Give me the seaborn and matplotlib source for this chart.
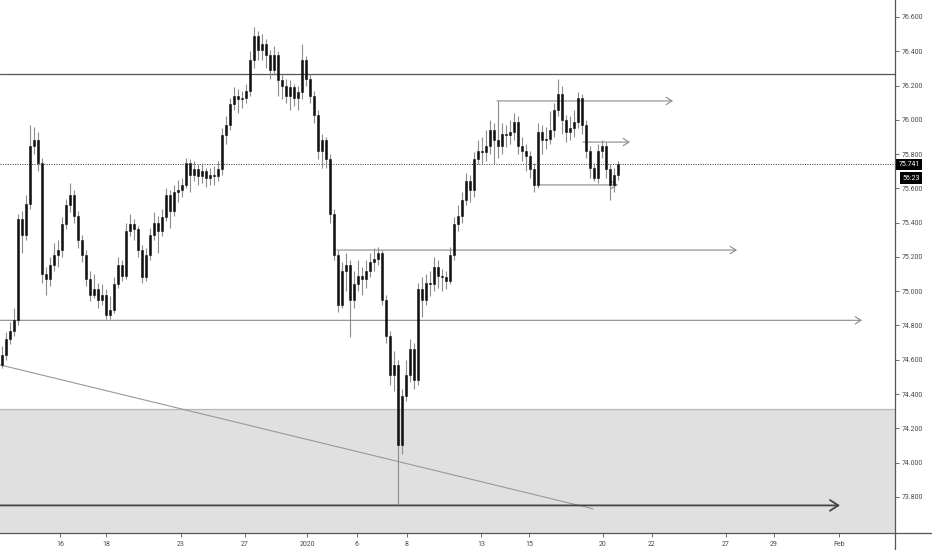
import numpy as np
import pandas as pd
import matplotlib
matplotlib.use("Agg")
import matplotlib.pyplot as plt
import seaborn as sns
from matplotlib.lines import Line2D

# 4h candles (open = previous close)
first_open = 74.57
closes = [74.63, 74.72, 74.77, 74.83, 75.42, 75.33, 75.51, 75.85, 75.88, 75.75,
          75.10, 75.07, 75.15, 75.21, 75.24, 75.39, 75.50, 75.56, 75.44, 75.30,
          75.21, 75.07, 74.98, 75.01, 74.95, 74.98, 74.86, 74.89, 75.04, 75.15,
          75.09, 75.35, 75.39, 75.36, 75.24, 75.08, 75.21, 75.33, 75.40, 75.35,
          75.43, 75.56, 75.47, 75.58, 75.59, 75.62, 75.75, 75.68, 75.71, 75.67,
          75.70, 75.66, 75.68, 75.67, 75.71, 75.91, 75.97, 76.09, 76.14, 76.12,
          76.13, 76.17, 76.35, 76.49, 76.41, 76.44, 76.38, 76.29, 76.38, 76.23,
          76.20, 76.14, 76.19, 76.13, 76.16, 76.35, 76.24, 76.14, 76.03, 75.82,
          75.88, 75.77, 75.45, 75.21, 74.92, 75.12, 75.15, 74.95, 75.04, 75.09,
          75.07, 75.12, 75.17, 75.19, 75.22, 74.95, 74.74, 74.51, 74.57, 74.10,
          74.39, 74.51, 74.66, 74.48, 75.01, 74.95, 75.05, 75.04, 75.14, 75.09,
          75.08, 75.06, 75.21, 75.39, 75.44, 75.53, 75.64, 75.59, 75.77, 75.82,
          75.81, 75.85, 75.94, 75.88, 75.85, 75.92, 75.91, 75.93, 75.99, 75.85,
          75.82, 75.79, 75.71, 75.62, 75.93, 75.88, 75.89, 75.94, 76.06, 76.15,
          76.00, 75.93, 75.95, 75.99, 76.13, 75.97, 75.82, 75.72, 75.66, 75.82,
          75.85, 75.71, 75.62, 75.68, 75.741]
highs = [74.68, 74.76, 74.82, 74.90, 75.45, 75.47, 75.56, 75.97, 75.96, 75.93,
         75.78, 75.14, 75.20, 75.28, 75.30, 75.43, 75.54, 75.63, 75.59, 75.47,
         75.33, 75.24, 75.12, 75.10, 75.05, 75.04, 75.01, 74.97, 75.08, 75.20,
         75.18, 75.40, 75.45, 75.42, 75.38, 75.27, 75.25, 75.37, 75.46, 75.44,
         75.48, 75.60, 75.59, 75.62, 75.65, 75.66, 75.78, 75.77, 75.76, 75.74,
         75.75, 75.72, 75.72, 75.73, 75.76, 75.95, 76.02, 76.13, 76.19, 76.18,
         76.17, 76.21, 76.40, 76.54, 76.52, 76.50, 76.47, 76.41, 76.43, 76.40,
         76.27, 76.24, 76.23, 76.21, 76.20, 76.44, 76.37, 76.27, 76.17, 76.06,
         75.92, 75.90, 75.80, 75.48, 75.24, 75.17, 75.22, 75.18, 75.12, 75.18,
         75.14, 75.18, 75.22, 75.25, 75.26, 75.24, 74.98, 74.77, 74.65, 74.60,
         74.43, 74.60, 74.72, 74.70, 75.05, 75.08, 75.10, 75.12, 75.20, 75.18,
         75.13, 75.12, 75.26, 75.43, 75.50, 75.58, 75.69, 75.68, 75.81, 75.88,
         75.90, 75.94, 76.00, 75.98, 76.11, 75.98, 75.97, 76.00, 76.04, 76.02,
         75.90, 75.86, 75.82, 75.75, 75.98, 75.97, 75.96, 76.05, 76.10, 76.24,
         76.20, 76.03, 76.02, 76.06, 76.16, 76.15, 76.00, 75.85, 75.75, 75.86,
         75.88, 75.87, 75.74, 75.72, 75.76]
lows = [74.55, 74.60, 74.69, 74.74, 74.80, 75.22, 75.30, 75.48, 75.80, 75.70,
        75.05, 74.98, 75.03, 75.12, 75.14, 75.20, 75.36, 75.46, 75.40, 75.25,
        75.17, 75.03, 74.94, 74.96, 74.90, 74.92, 74.84, 74.84, 74.87, 75.02,
        75.06, 75.07, 75.32, 75.30, 75.20, 75.05, 75.06, 75.18, 75.30, 75.22,
        75.32, 75.41, 75.37, 75.44, 75.52, 75.55, 75.60, 75.58, 75.64, 75.62,
        75.63, 75.61, 75.62, 75.62, 75.64, 75.68, 75.86, 75.94, 76.06, 76.04,
        76.07, 76.10, 76.14, 76.30, 76.35, 76.35, 76.30, 76.24, 76.26, 76.14,
        76.12, 76.10, 76.06, 76.08, 76.06, 76.12, 76.20, 76.10, 75.98, 75.77,
        75.72, 75.72, 75.40, 75.18, 74.88, 74.90, 75.00, 74.73, 74.90, 75.00,
        74.98, 75.02, 75.08, 75.12, 75.15, 74.92, 74.70, 74.45, 74.42, 73.75,
        74.05, 74.36, 74.47, 74.43, 74.45, 74.85, 74.92, 74.97, 75.00, 75.02,
        75.00, 75.01, 75.04, 75.18, 75.35, 75.40, 75.50, 75.52, 75.55, 75.74,
        75.74, 75.76, 75.80, 75.74, 75.78, 75.80, 75.84, 75.86, 75.88, 75.80,
        75.76, 75.70, 75.66, 75.58, 75.60, 75.80, 75.83, 75.86, 75.90, 76.02,
        75.92, 75.87, 75.88, 75.90, 75.95, 75.92, 75.78, 75.66, 75.64, 75.63,
        75.78, 75.66, 75.53, 75.58, 75.65]

# date ticks (bar index) and labels
tick_bars = [14.5, 26, 44.75, 60.75, 76.25, 88.75, 101.25, 119.75, 131.75,
             150.25, 162.5, 181, 193, 209.25]
tick_labels = ['16', '18', '23', '27', '2020', '6', '8', '13', '15',
               '20', '22', '27', '29', 'Feb']
price_ticks = [73.8, 74.0, 74.2, 74.4, 74.6, 74.8, 75.0, 75.2, 75.4, 75.6,
               75.8, 76.0, 76.2, 76.4, 76.6]

# drawings
resistance = 76.27
zone_low, zone_high = 73.55, 74.31
last_price = 75.741
countdown = '56:23'
trend_x = [-0.5, 147.75]
trend_y = [74.57, 73.73]
ray_start = [-0.5, 83.75, 123.75, 145.25, 133.75]
ray_end = [215.0, 183.75, 167.75, 157.0, 154.0]
ray_price = [74.83, 75.24, 76.11, 75.87, 75.62]
base_start, base_end, base_price = -0.5, 209.5, 73.75

opens = [first_open] + closes[:-1]
df = pd.DataFrame({'open': opens, 'high': highs, 'low': lows, 'close': closes})
df['bar'] = np.arange(len(df))
df['body_lo'] = df[['open', 'close']].min(axis=1)
df['body_h'] = (df['close'] - df['open']).abs().clip(lower=0.006)

sns.set_theme(style="white")
plt.rcParams['font.family'] = ['Roboto', 'DejaVu Sans']

fig = plt.figure(figsize=(9.32, 5.5), dpi=100)
ax = fig.add_axes([0, 17 / 550, 895 / 932, 533 / 550])
ax.set_facecolor('white')

ax.axhspan(zone_low, zone_high, color='#e0e0e0', lw=0, zorder=0)
ax.axhline(zone_high, color='#b8b8b8', lw=0.9, zorder=1)
ax.axhline(resistance, color='#555555', lw=0.9, zorder=2)
ax.axhline(last_price, color='#333333', lw=0.7, ls=(0, (1, 1.5)), zorder=2)

sns.lineplot(x=trend_x, y=trend_y, ax=ax, color='#999999', lw=0.8, zorder=2)

for s, e, p in zip(ray_start, ray_end, ray_price):
    ax.annotate('', xy=(e, p), xytext=(s, p),
                arrowprops=dict(arrowstyle='->,head_length=0.35,head_width=0.22',
                                color='#8a8a8a', lw=0.8, shrinkA=0, shrinkB=0),
                zorder=2)
ax.annotate('', xy=(base_end, base_price), xytext=(base_start, base_price),
            arrowprops=dict(arrowstyle='->,head_length=0.5,head_width=0.32',
                            color='#444444', lw=1.3, shrinkA=0, shrinkB=0),
            zorder=2)

# candles: gray wicks, black bodies
ax.vlines(df['bar'], df['low'], df['high'], color='#8c8c8c', lw=0.8, zorder=3)
ax.bar(df['bar'], df['body_h'], bottom=df['body_lo'], width=0.55,
       color='#111111', edgecolor='#111111', lw=0.4, zorder=4)

ax.set_xlim(-0.5, 223.25)
ax.set_ylim(73.589, 76.699)
ax.set_xlabel('')
ax.set_ylabel('')

ax.yaxis.tick_right()
ax.set_yticks(price_ticks)
ax.set_yticklabels([f'{p:.3f}' for p in price_ticks])
ax.set_xticks(tick_bars)
ax.set_xticklabels(tick_labels)
ax.tick_params(axis='y', length=3, width=0.6, color='#555555', labelsize=5,
               labelcolor='#4a4a4a', pad=2, right=True, left=False)
ax.tick_params(axis='x', length=3, width=0.6, color='#555555', labelsize=5,
               labelcolor='#4a4a4a', pad=3, bottom=True)

for side in ['top', 'left']:
    ax.spines[side].set_visible(False)
for side in ['right', 'bottom']:
    ax.spines[side].set_color('#555555')
    ax.spines[side].set_linewidth(0.9)

fig.add_artist(Line2D([895 / 932, 895 / 932], [0, 17 / 550], transform=fig.transFigure,
                      color='#555555', lw=0.9))
fig.add_artist(Line2D([895 / 932, 1], [17 / 550, 17 / 550], transform=fig.transFigure,
                      color='#555555', lw=0.9))

ytr = ax.get_yaxis_transform()
ax.text(1.004, last_price, f'{last_price:.3f}', transform=ytr, color='white',
        fontsize=5, ha='left', va='center', zorder=10,
        bbox=dict(boxstyle='square,pad=0.3', fc='black', ec='none'))
ax.text(1.008, 75.66, countdown, transform=ytr, color='white',
        fontsize=5, ha='left', va='center', zorder=10,
        bbox=dict(boxstyle='square,pad=0.3', fc='black', ec='none'))

fig.savefig('out.png', dpi=100)
